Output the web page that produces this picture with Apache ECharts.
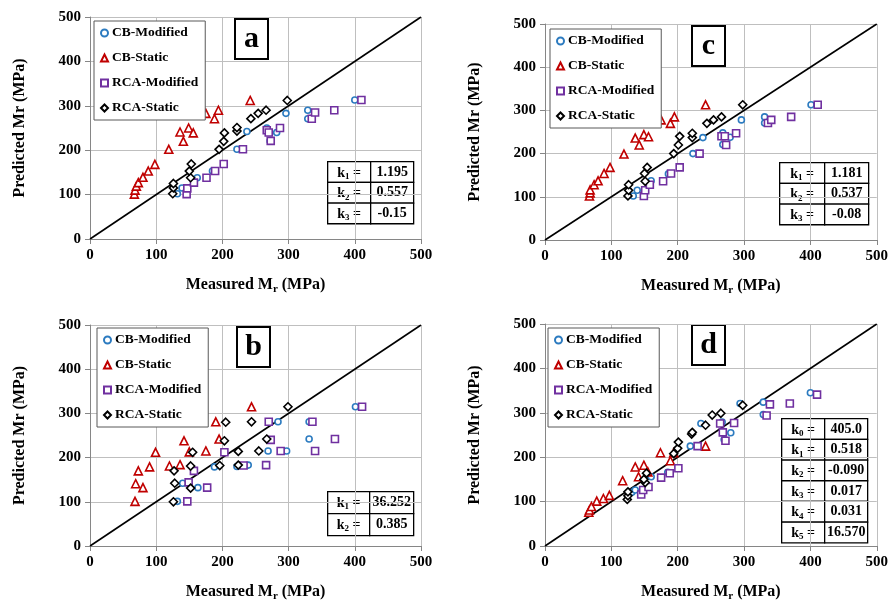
<!DOCTYPE html>
<html>
<head>
<meta charset="utf-8">
<script src="https://cdn.jsdelivr.net/npm/echarts@6/dist/echarts.min.js"></script>
<style>
  html, body { margin: 0; padding: 0; background: #fff; }
  #main { width: 891px; height: 606px; }
</style>
</head>
<body>
<div id="main"></div>
<script>
// measured vs predicted Mr, 4 panels (a, b, c, d)
const seriesNames = ['CB-Modified', 'CB-Static', 'RCA-Modified', 'RCA-Static'];
const axisTicks = [0, 100, 200, 300, 400, 500];
const lineOfEquality = [[0, 0], [500, 500]];

// panel a
const aCbModified = [[132,102],[139,115],[162,138],[185,153],[222,202],[237,242],[267,250],[272,221],[282,240],[296,283],[329,290],[329,271],[400,313]];
const aCbStatic = [[67,101],[68,110],[70,119],[73,127],[80,139],[88,153],[98,168],[119,202],[136,241],[141,220],[149,250],[156,239],[175,283],[188,271],[194,290],[242,312]];
const aRcaModified = [[146,101],[147,114],[157,127],[176,138],[189,153],[202,169],[231,202],[267,245],[270,240],[273,221],[287,250],[335,271],[340,285],[369,290],[410,313]];
const aRcaStatic = [[125,102],[126,115],[126,125],[152,138],[150,153],[153,169],[195,202],[202,220],[203,239],[222,243],[222,251],[243,271],[254,283],[266,290],[298,312]];

// panel b
const bCbModified = [[132,101],[140,142],[163,132],[188,179],[222,180],[239,183],[269,215],[284,281],[297,215],[331,242],[331,281],[401,315]];
const bCbStatic = [[68,101],[69,141],[80,132],[73,170],[90,179],[99,212],[120,181],[136,184],[142,238],[150,213],[175,215],[190,281],[195,242],[244,315]];
const bRcaModified = [[147,101],[149,144],[177,132],[157,170],[203,212],[232,182],[266,183],[270,281],[273,240],[288,215],[336,281],[340,215],[370,242],[411,315]];
const bRcaStatic = [[126,100],[128,142],[127,170],[152,131],[152,181],[155,212],[196,182],[203,238],[205,280],[224,183],[224,214],[244,281],[255,215],[267,242],[299,315]];

// panel c
const cCbModified = [[133,102],[139,115],[160,137],[186,153],[223,200],[238,237],[268,248],[268,221],[279,238],[296,278],[331,285],[331,271],[401,313]];
const cCbStatic = [[67,102],[68,109],[68,116],[74,128],[80,137],[89,154],[98,168],[119,199],[136,236],[142,220],[149,244],[156,239],[175,278],[189,270],[195,285],[242,313]];
const cRcaModified = [[149,102],[151,115],[158,128],[178,136],[190,154],[203,168],[233,200],[266,240],[271,240],[273,220],[288,247],[336,271],[341,278],[371,285],[411,313]];
const cRcaStatic = [[125,102],[126,115],[126,128],[151,136],[150,154],[154,168],[194,200],[201,220],[203,240],[222,237],[222,247],[244,270],[254,278],[266,285],[298,313]];

// panel d
const dCbModified = [[131,121],[136,126],[160,156],[185,166],[219,225],[235,276],[267,279],[270,240],[280,255],[294,321],[329,324],[329,296],[400,345]];
const dCbStatic = [[66,76],[67,81],[70,89],[78,101],[88,107],[97,114],[117,147],[136,178],[141,156],[149,182],[155,167],[174,210],[189,192],[194,210],[242,225]];
const dRcaModified = [[145,116],[148,126],[156,133],[175,154],[188,164],[201,175],[230,225],[264,276],[268,256],[272,237],[285,277],[334,294],[339,319],[369,321],[410,341]];
const dRcaStatic = [[124,105],[125,113],[125,122],[151,143],[149,150],[153,164],[194,208],[200,220],[201,234],[221,252],[222,256],[242,272],[252,295],[265,299],[298,317]];

// fitted coefficients shown in the small tables (subscript index + value)
const kIndexA = ['1', '2', '3'];
const kValuesA = ['1.195', '0.557', '-0.15'];
const kIndexB = ['1', '2'];
const kValuesB = ['36.252', '0.385'];
const kIndexC = ['1', '2', '3'];
const kValuesC = ['1.181', '0.537', '-0.08'];
const kIndexD = ['0', '1', '2', '3', '4', '5'];
const kValuesD = ['405.0', '0.518', '-0.090', '0.017', '0.031', '16.570'];

const FONT = 'Liberation Serif';

const panels = [
  { letter: 'a', grid: { left: 90, top: 17, width: 331, height: 222 },
    data: [aCbModified, aCbStatic, aRcaModified, aRcaStatic],
    legend: { left: 94, top: 21 }, box: [234, 18], table: [327, 161, 43, 43, 20.7], k: [kIndexA, kValuesA] },
  { letter: 'b', grid: { left: 90, top: 325, width: 331, height: 221 },
    data: [bCbModified, bCbStatic, bRcaModified, bRcaStatic],
    legend: { left: 97, top: 328 }, box: [236, 326], table: [327, 491, 42, 44, 22], k: [kIndexB, kValuesB] },
  { letter: 'c', grid: { left: 545, top: 24, width: 332, height: 216 },
    data: [cCbModified, cCbStatic, cRcaModified, cRcaStatic],
    legend: { left: 550, top: 29 }, box: [691, 25], table: [779, 162, 45, 44, 20.7], k: [kIndexC, kValuesC] },
  { letter: 'd', grid: { left: 545, top: 324, width: 332, height: 222 },
    data: [dCbModified, dCbStatic, dRcaModified, dRcaStatic],
    legend: { left: 548, top: 328 }, box: [691, 324], table: [781, 418, 43, 43, 20.7], k: [kIndexD, kValuesD] }
];

const markerStyles = [
  { symbol: 'circle', size: 6, color: '#2C7BC0' },
  { symbol: 'triangle', size: 8, color: '#C00000' },
  { symbol: 'rect', size: 7, color: '#7030A0' },
  { symbol: 'diamond', size: 8, color: '#000000' }
];

const grids = [], xAxes = [], yAxes = [], series = [], legends = [], graphics = [];

const axisBase = {
  min: 0, max: 500, interval: 100,
  axisLine: { onZero: false, lineStyle: { color: '#868686', width: 1 } },
  axisTick: { length: 5, lineStyle: { color: '#868686' } },
  splitLine: { show: true, lineStyle: { color: '#BFBFBF', width: 1 } },
  axisLabel: { color: '#000', fontFamily: FONT, fontWeight: 'bold', fontSize: 15, margin: 9 }
};

const kRich = {
  k: { fontFamily: FONT, fontWeight: 'bold', fontSize: 14, fill: '#000', lineHeight: 16 },
  s: { fontFamily: FONT, fontWeight: 'bold', fontSize: 9, fill: '#000', lineHeight: 11, verticalAlign: 'bottom' }
};

panels.forEach((p, i) => {
  grids.push(Object.assign({ containLabel: false }, p.grid));
  xAxes.push(Object.assign({}, axisBase, {
    type: 'value', gridIndex: i,
    name: '{m|Measured M}{s|r}{m| (MPa)}',
    nameLocation: 'middle', nameGap: 36,
    nameTextStyle: {
      rich: {
        m: { fontFamily: FONT, fontWeight: 'bold', fontSize: 16, color: '#000', lineHeight: 20 },
        s: { fontFamily: FONT, fontWeight: 'bold', fontSize: 11, color: '#000', lineHeight: 12, verticalAlign: 'bottom' }
      }
    }
  }));
  yAxes.push(Object.assign({}, axisBase, {
    type: 'value', gridIndex: i,
    name: 'Predicted Mr (MPa)',
    nameLocation: 'middle', nameGap: 62,
    nameTextStyle: { fontFamily: FONT, fontWeight: 'bold', fontSize: 16, color: '#000' }
  }));

  series.push({
    type: 'line', name: '1:1', xAxisIndex: i, yAxisIndex: i,
    data: lineOfEquality, symbol: 'none', silent: true, z: 1,
    lineStyle: { color: '#000', width: 1.6 }
  });
  p.data.forEach((pts, j) => {
    const m = markerStyles[j];
    series.push({
      type: 'scatter', name: seriesNames[j], xAxisIndex: i, yAxisIndex: i,
      data: pts, symbol: m.symbol, symbolSize: m.size, z: 3,
      itemStyle: { color: '#fff', borderColor: m.color, borderWidth: 1.6, opacity: 1 }
    });
  });

  legends.push({
    data: seriesNames, orient: 'vertical',
    left: p.legend.left, top: p.legend.top,
    padding: [5, 7, 5, 6], itemGap: 11, itemWidth: 7, itemHeight: 7,
    backgroundColor: '#fff', borderColor: '#595959', borderWidth: 1, borderRadius: 0,
    selectedMode: false,
    textStyle: { fontFamily: FONT, fontWeight: 'bold', fontSize: 13.5, color: '#000', padding: [0, 0, 0, -1] }
  });

  // panel letter in a box
  graphics.push({
    type: 'group', left: p.box[0], top: p.box[1], z: 10,
    children: [
      { type: 'rect', shape: { x: 0, y: 0, width: 33, height: 40 },
        style: { fill: '#fff', stroke: '#000', lineWidth: 2 } },
      { type: 'text', x: 16.5, y: 20,
        style: { text: p.letter, fontFamily: FONT, fontWeight: 'bold', fontSize: 30, fill: '#000', align: 'center', verticalAlign: 'middle' } }
    ]
  });

  // coefficient table
  const [tx, ty, w1, w2, rh] = p.table;
  const idx = p.k[0], values = p.k[1];
  const children = [];
  idx.forEach((n, r) => {
    children.push({ type: 'rect', shape: { x: 0, y: r * rh, width: w1, height: rh },
      style: { fill: '#fff', stroke: '#000', lineWidth: 1.3 } });
    children.push({ type: 'rect', shape: { x: w1, y: r * rh, width: w2, height: rh },
      style: { fill: '#fff', stroke: '#000', lineWidth: 1.3 } });
    children.push({ type: 'text', x: w1 / 2, y: r * rh + rh / 2 + 1,
      style: { text: '{k|k}{s|' + n + '}{k| =}', rich: kRich, align: 'center', verticalAlign: 'middle' } });
    children.push({ type: 'text', x: w1 + w2 / 2, y: r * rh + rh / 2,
      style: { text: values[r], fontFamily: FONT, fontWeight: 'bold', fontSize: 14, fill: '#000', align: 'center', verticalAlign: 'middle' } });
  });
  graphics.push({ type: 'group', left: tx, top: ty, z: 10, children });
});

const chart = echarts.init(document.getElementById('main'), null, { renderer: 'canvas' });
chart.setOption({
  animation: false,
  backgroundColor: '#fff',
  grid: grids,
  xAxis: xAxes,
  yAxis: yAxes,
  legend: legends,
  series: series,
  graphic: graphics
});
</script>
</body>
</html>
